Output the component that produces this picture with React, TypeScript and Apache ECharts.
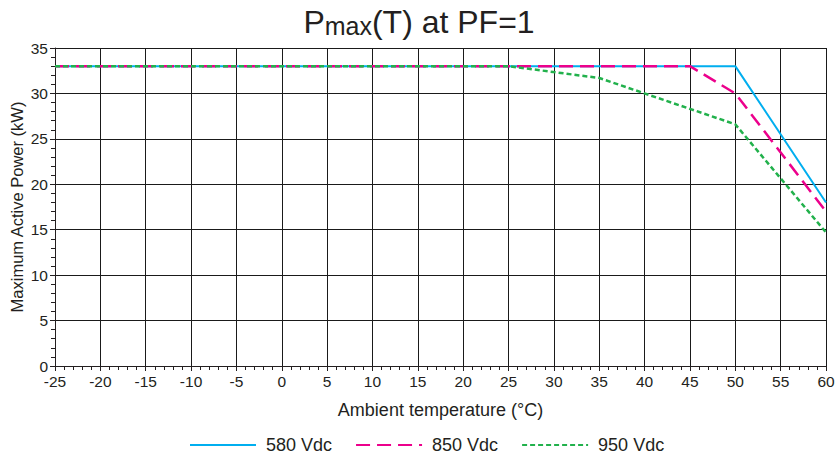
import React, { useEffect, useRef } from "react";
import * as echarts from "echarts";

const seriesNames = ["580 Vdc", "850 Vdc", "950 Vdc"];
const s580: [number, number][] = [[-25, 33], [50, 33], [60, 18]];
const s850: [number, number][] = [[-25, 33], [45, 33], [50, 30], [60, 17]];
const s950: [number, number][] = [[-25, 33], [25, 33], [35, 31.7], [50, 26.6], [60, 14.7]];
const colors = ["#00AEEF", "#EC008C", "#22B14C"];

export default function App() {
  const ref = useRef<HTMLDivElement>(null);
  useEffect(() => {
    const chart = echarts.init(ref.current!, null, { renderer: "svg" });
    const font = "Liberation Sans, Arial, sans-serif";
    const txt = "#231F20";
    chart.setOption({
      animation: false,
      backgroundColor: "#fff",
      textStyle: { fontFamily: font },
      title: {
        left: "center",
        top: 6,
        padding: 0,
        text: "{p|P}{s|max}{p|(T) at PF=1}",
        textStyle: {
          fontWeight: "normal",
          rich: {
            p: { fontSize: 32, fontFamily: font, fontWeight: "normal", color: txt, verticalAlign: "top", lineHeight: 32 },
            s: { fontSize: 25, fontFamily: font, fontWeight: "normal", color: txt, verticalAlign: "bottom", lineHeight: 26, padding: [14, 0, 0, 0] },
          },
        },
      },
      legend: {
        top: 436,
        left: 189,
        padding: 0,
        itemWidth: 66,
        itemHeight: 10,
        itemGap: 23,
        itemStyle: { opacity: 0 },
        textStyle: { fontSize: 18, color: txt, fontFamily: font, padding: [0, 0, 0, 5] },
        data: seriesNames,
      },
      grid: { left: 55, right: 12, top: 48, bottom: 88, containLabel: false, outerBoundsMode: "none" },
      xAxis: {
        type: "value",
        min: -25,
        max: 60,
        interval: 5,
        name: "Ambient temperature (°C)",
        nameLocation: "middle",
        nameGap: 35,
        nameMoveOverlap: false,
        nameTextStyle: { fontSize: 18, color: txt, fontFamily: font },
        axisLine: { onZero: false, lineStyle: { color: "#231F20", width: 1 } },
        axisTick: { show: true, inside: false, length: 5, lineStyle: { color: "#231F20" } },
        minorTick: { show: true, splitNumber: 5, length: 4, lineStyle: { color: "#231F20" } },
        axisLabel: { fontSize: 15.5, color: txt, margin: 7, fontFamily: font },
        splitLine: { show: true, lineStyle: { color: "#1a1a1a", width: 1 } },
      },
      yAxis: {
        type: "value",
        min: 0,
        max: 35,
        interval: 5,
        name: "Maximum Active Power (kW)",
        nameLocation: "middle",
        nameGap: 30,
        nameMoveOverlap: false,
        nameTextStyle: { fontSize: 16.5, color: txt, fontFamily: font },
        axisLine: { show: true, onZero: false, lineStyle: { color: "#231F20", width: 1 } },
        axisTick: { show: true, inside: false, length: 5, lineStyle: { color: "#231F20" } },
        minorTick: { show: true, splitNumber: 5, length: 4, lineStyle: { color: "#231F20" } },
        axisLabel: { fontSize: 15.5, color: txt, margin: 7, fontFamily: font },
        splitLine: { show: true, lineStyle: { color: "#1a1a1a", width: 1 } },
      },
      series: [
        {
          name: seriesNames[0], type: "line", data: s580, symbol: "none", showSymbol: false, z: 3,
          itemStyle: { color: colors[0] },
          lineStyle: { color: colors[0], width: 2 },
        },
        {
          name: seriesNames[1], type: "line", data: s850, symbol: "none", showSymbol: false, z: 4,
          itemStyle: { color: colors[1] },
          lineStyle: { color: colors[1], width: 2.5, type: [14, 7] },
        },
        {
          name: seriesNames[2], type: "line", data: s950, symbol: "none", showSymbol: false, z: 5,
          itemStyle: { color: colors[2] },
          lineStyle: { color: colors[2], width: 2.5, type: [5, 3] },
        },
      ],
    });
    return () => chart.dispose();
  }, []);
  return <div ref={ref} style={{ position: "absolute", left: 0, top: 0, width: 838, height: 454 }} />;
}
